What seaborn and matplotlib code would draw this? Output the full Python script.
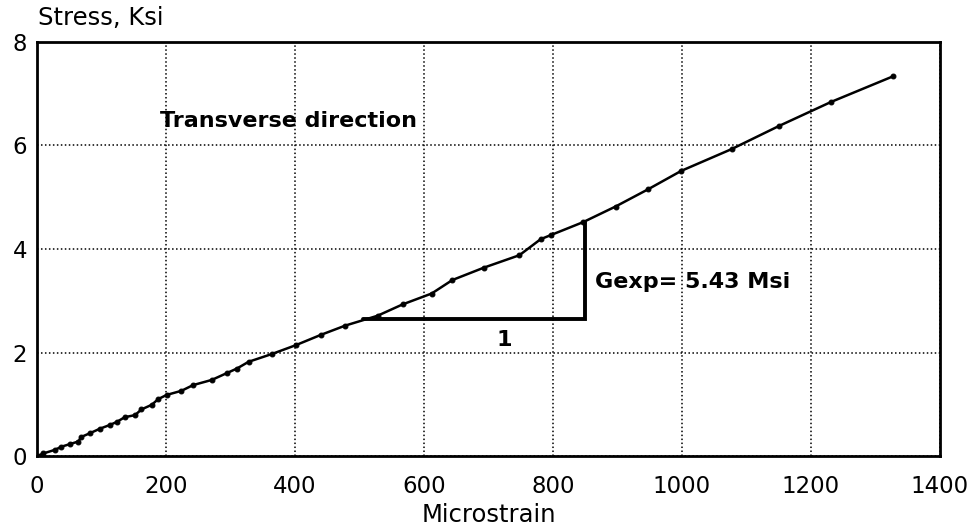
import matplotlib
matplotlib.use("Agg")
import matplotlib.pyplot as plt
import seaborn as sns
import pandas as pd

# Shear test data: transverse direction
microstrain = [0, 10, 28, 38, 51, 64, 69, 82, 98, 113, 124, 136, 152, 162, 178, 188,
               201, 224, 242, 271, 294, 310, 328, 364, 401, 440, 478, 528, 567, 612,
               644, 693, 748, 781, 797, 847, 897, 947, 999, 1077, 1151, 1231, 1328]
stress_ksi = [0, 0.05, 0.12, 0.18, 0.23, 0.28, 0.37, 0.44, 0.53, 0.60, 0.66, 0.75, 0.79,
              0.90, 0.99, 1.10, 1.18, 1.26, 1.37, 1.47, 1.60, 1.69, 1.82, 1.97, 2.14,
              2.34, 2.52, 2.71, 2.93, 3.14, 3.40, 3.64, 3.88, 4.19, 4.27, 4.52, 4.82,
              5.15, 5.51, 5.93, 6.38, 6.84, 7.34]

# Slope triangle corners (microstrain, ksi)
tri_x = [506, 850, 850]
tri_y = [2.64, 2.64, 4.52]

x_ticks = [0, 200, 400, 600, 800, 1000, 1200, 1400]
y_ticks = [0, 2, 4, 6, 8]

sns.set_style("white")
plt.rcParams["font.family"] = ["DejaVu Sans"]
plt.rcParams["text.color"] = "black"
plt.rcParams["axes.labelcolor"] = "black"

fig = plt.figure(figsize=(9.73, 5.30), dpi=100)
ax = fig.add_axes([0.038, 0.1396, 0.928, 0.7812])

df = pd.DataFrame({"Microstrain": microstrain, "Stress": stress_ksi})
sns.lineplot(data=df, x="Microstrain", y="Stress", ax=ax, sort=False,
             color="black", linewidth=1.8, marker="o", markersize=3.5,
             markeredgecolor="black", markerfacecolor="black")

ax.plot(tri_x, tri_y, color="black", linewidth=2.8, solid_joinstyle="miter")

ax.set_xlim(0, 1400)
ax.set_ylim(0, 8)
ax.set_xticks(x_ticks)
ax.set_yticks(y_ticks)
ax.tick_params(axis="both", direction="in", length=7, width=2, labelsize=16.5,
               colors="black")
ax.tick_params(axis="x", pad=14)
ax.tick_params(axis="y", pad=7)
ax.grid(True, color="black", linestyle=(0, (1, 1.6)), linewidth=1.1)
for s in ax.spines.values():
    s.set_color("black")
    s.set_linewidth(2)

ax.set_xlabel("Microstrain", fontsize=17.5, va="center")
ax.xaxis.set_label_coords(0.5, -0.1425)
ax.set_ylabel("")
fig.text(38 / 973, 1 - 18 / 530, "Stress, Ksi", fontsize=17.5, ha="left", va="center")

ax.text(191, 6.47, "Transverse direction", fontsize=16, fontweight="bold",
        ha="left", va="center")
ax.text(865, 3.36, "Gexp= 5.43 Msi", fontsize=16, fontweight="bold",
        ha="left", va="center")
ax.text(725, 2.24, "1", fontsize=16, fontweight="bold", ha="center", va="center")

fig.savefig("out.png", dpi=100, facecolor="white")
